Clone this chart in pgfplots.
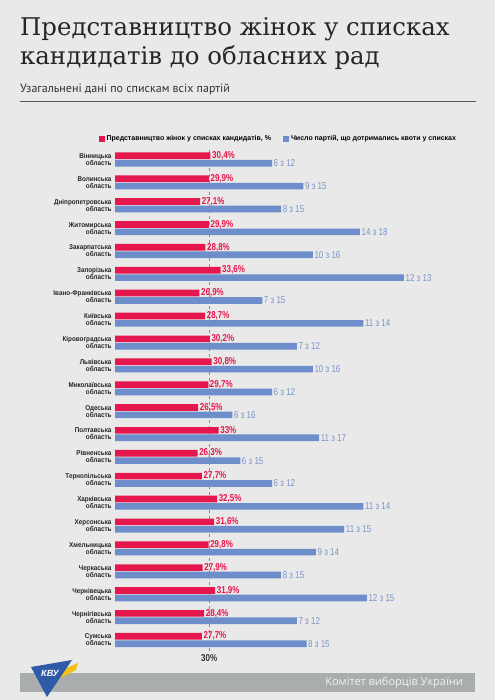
\documentclass[border=0pt]{standalone}
\usepackage{pgfplots}
\pgfplotsset{compat=1.18}
\usepackage{fontspec}
\setmainfont{Liberation Sans}
\newfontfamily\titlefont{DejaVu Serif}
\newfontfamily\subfont{PT Sans}
\newfontfamily\condfont[FakeStretch=0.8]{Liberation Sans}
\newfontfamily\labfont[FakeStretch=0.9]{Liberation Sans}
\newfontfamily\footfont{Open Sans}
\definecolor{bg}{HTML}{E9E9E9}
\definecolor{cred}{HTML}{E5174C}
\definecolor{cblue}{HTML}{6E8DCB}
\definecolor{cbluetext}{HTML}{7A94CC}
\definecolor{footgray}{HTML}{A9ADAD}
\definecolor{logoblue}{HTML}{2E5AA8}
\definecolor{logoyellow}{HTML}{F2C21B}
\begin{document}
\begin{tikzpicture}[x=1pt,y=1pt]
\useasboundingbox (0,0) rectangle (495,700);
\fill[bg] (0,0) rectangle (495,700);
\node[anchor=base west, inner sep=0, font=\titlefont\fontsize{24.4}{24.4}\selectfont, text=black!85] at (20,664) {Представництво жінок у списках};
\node[anchor=base west, inner sep=0, font=\titlefont\fontsize{24.4}{24.4}\selectfont, text=black!85] at (20,635) {кандидатів до обласних рад};
\node[anchor=base west, inner sep=0, font=\subfont\fontsize{12}{12}\selectfont, text=black!80] at (20,607) {Узагальнені дані по спискам всіх партій};
\draw[line width=1.5pt, black!65] (20,598.3) -- (476,598.3);
\begin{axis}[
  at={(115pt,48.6pt)}, anchor=south west,
  scale only axis, width=314pt, height=503.3pt,
  xmin=0, xmax=100, ymin=0.5, ymax=22.5,
  xbar, bar width=6.7pt,
  axis line style={draw=none},
  major tick length=0pt,
  xtick={30}, xticklabels={30\%},
  xticklabel style={font=\condfont\bfseries\fontsize{10}{10}\selectfont, text=black!80},
  xmajorgrids, grid style={dashed, black!45, line width=0.5pt},
  ytick={1,...,22},
  yticklabels={{Сумська\\область},{Чернігівська\\область},{Чернівецька\\область},{Черкаська\\область},{Хмельницька\\область},{Херсонська\\область},{Харківська\\область},{Тернопільська\\область},{Рівненська\\область},{Полтавська\\область},{Одеська\\область},{Миколаївська\\область},{Львівська\\область},{Кіровоградська\\область},{Київська\\область},{Івано-Франківська\\область},{Запорізька\\область},{Закарпатська\\область},{Житомирська\\область},{Дніпропетровська\\область},{Волинська\\область},{Вінницька\\область}},
  yticklabel style={align=right, font=\labfont\bfseries\fontsize{7}{7}\selectfont, text=black!85},
  legend columns=2,
  legend style={at={(0.52,1.018)}, anchor=center, draw=none, fill=none, font=\bfseries\fontsize{7}{7}\selectfont, /tikz/every even column/.append style={column sep=10pt}},
  legend image code/.code={\fill[#1] (0pt,-3pt) rectangle (6pt,3pt);},
  point meta=explicit symbolic,
  nodes near coords,
  nodes near coords align=horizontal,
  clip=false,
]
\addplot[fill=cred, draw=none, bar shift=3.7pt, every node near coord/.append style={anchor=west, font=\condfont\bfseries\fontsize{10}{10}\selectfont, text=cred, inner sep=1.5pt}] coordinates {
(30.4,22) [30,4\%]
(29.9,21) [29,9\%]
(27.1,20) [27,1\%]
(29.9,19) [29,9\%]
(28.8,18) [28,8\%]
(33.6,17) [33,6\%]
(26.9,16) [26,9\%]
(28.7,15) [28,7\%]
(30.2,14) [30,2\%]
(30.8,13) [30,8\%]
(29.7,12) [29,7\%]
(26.5,11) [26,5\%]
(33.0,10) [33\%]
(26.3,9) [26,3\%]
(27.7,8) [27,7\%]
(32.5,7) [32,5\%]
(31.6,6) [31,6\%]
(29.8,5) [29,8\%]
(27.9,4) [27,9\%]
(31.9,3) [31,9\%]
(28.4,2) [28,4\%]
(27.7,1) [27,7\%]
};
\addlegendentry{Представництво жінок у списках кандидатів, \%}
\addplot[fill=cblue, draw=none, bar shift=-3.7pt, every node near coord/.append style={anchor=west, font=\condfont\fontsize{10}{10}\selectfont, text=cbluetext, inner sep=1.5pt}] coordinates {
(50.0,22) [6 з 12]
(60.0,21) [9 з 15]
(52.9,20) [8 з 15]
(78.0,19) [14 з 18]
(63.0,18) [10 з 16]
(92.0,17) [12 з 13]
(46.9,16) [7 з 15]
(79.1,15) [11 з 14]
(57.9,14) [7 з 12]
(63.0,13) [10 з 16]
(50.0,12) [6 з 12]
(37.4,11) [6 з 16]
(65.0,10) [11 з 17]
(39.9,9) [6 з 15]
(50.0,8) [6 з 12]
(79.1,7) [11 з 14]
(73.0,6) [11 з 15]
(64.0,5) [9 з 14]
(52.9,4) [8 з 15]
(80.2,3) [12 з 15]
(57.9,2) [7 з 12]
(61.0,1) [8 з 15]
};
\addlegendentry{Число партій, що дотримались квоти у списках}
\end{axis}
\fill[footgray] (20,8) rectangle (475,27);
\node[anchor=east, inner sep=0, font=\footfont\fontsize{11}{11}\selectfont, text=white!95!black] at (463,17.5) {Комітет виборців України};
\fill[logoyellow] (48,14) -- (60,22) -- (76,30) -- (78,37) -- (62,30) -- (50,22) -- cycle;
\fill[logoblue] (31,33) -- (72,40) -- (47,3) -- cycle;
\node[text=white, font=\bfseries\itshape\fontsize{9}{9}\selectfont] at (50,27) {КВУ};
\end{tikzpicture}
\end{document}
